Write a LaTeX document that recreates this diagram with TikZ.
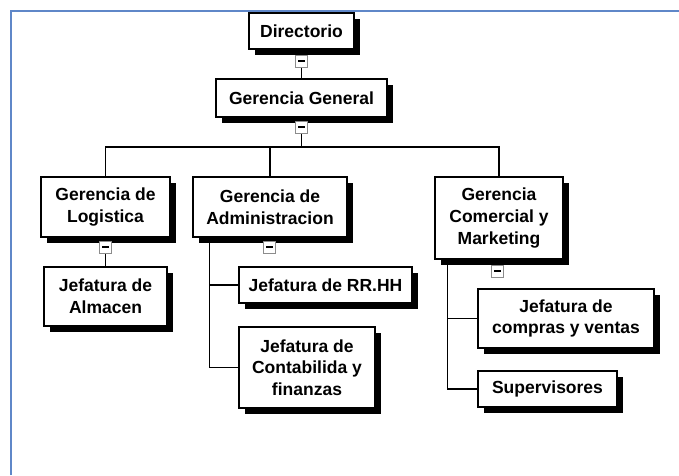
\documentclass[tikz,border=0pt]{standalone}
\usepackage{fontspec}
\setmainfont{Liberation Sans}
\usetikzlibrary{shadows, backgrounds}
\definecolor{framecol}{RGB}{95,135,200}

\begin{document}
\begin{tikzpicture}[x=1pt, y=-1pt,
    unit/.style={draw, line width=1.2pt, fill=white, inner sep=0pt, align=center,
        font=\fontsize{17.5}{21.7}\selectfont\bfseries,
        drop shadow={shadow xshift=6pt, shadow yshift=-6pt, fill=black, opacity=1}},
    toggle/.style={draw=black!45, fill=white, line width=0.9pt, minimum size=12pt, inner sep=0pt},
    link/.style={draw, line width=1.4pt}]
    \useasboundingbox (0,0) rectangle (679,475);
    \draw [framecol, line width=1.6pt] (11,475) -- (11,11) -- (679,11);
    \coordinate (top) at (301.5,11);
    \coordinate (bus) at (0,147);

    \node (dir) [unit, minimum width=105pt, minimum height=36pt] at (301.5,31) {Directorio};
    \node (gg) [unit, minimum width=171pt, minimum height=38pt] at (301.5,98) {Gerencia General};
    \node (log) [unit, minimum width=129pt, minimum height=60pt] at (105.5,207) {Gerencia de\\Logistica};
    \node (adm) [unit, minimum width=154pt, minimum height=60pt] at (270,207) {Gerencia de\\Administracion};
    \node (com) [unit, minimum width=128pt, minimum height=82pt] at (499,218) {Gerencia\\Comercial y\\Marketing};
    \node (alm) [unit, minimum width=123pt, minimum height=59pt] at (105.5,296.5) {Jefatura de\\Almacen};
    \node (rrhh) [unit, minimum width=173pt, minimum height=36pt] at (325.5,285) {Jefatura de RR.HH};
    \node (cont) [unit, minimum width=136pt, minimum height=81pt] at (307,367.5) {Jefatura de\\Contabilida y\\finanzas};
    \node (cv) [unit, minimum width=176pt, minimum height=59pt] at (566,318.5) {Jefatura de\\compras y ventas};
    \node (sup) [unit, minimum width=139pt, minimum height=36pt] at (547.5,389) {Supervisores};

    \node (t1) [toggle] at (301.5,61) {\rule{7pt}{1.5pt}};
    \node (t2) [toggle] at (301.5,127) {\rule{7pt}{1.5pt}};
    \node (t3) [toggle] at (105.5,247) {\rule{7pt}{1.5pt}};
    \node (t4) [toggle] at (269.5,247) {\rule{7pt}{1.5pt}};
    \node (t5) [toggle] at (497.5,271) {\rule{7pt}{1.5pt}};

    \begin{scope}[on background layer]
        \draw [link] (dir.north) -- (top);
        \draw [link] (dir.south) -- (gg.north);
        \draw [link] (gg.south) -- (gg.south |- bus);
        \draw [link] (log.north) |- (com.north |- bus) -- (com.north);
        \draw [link] (adm.north) -- (adm.north |- bus);
        \draw [link] (log.south) -- (alm.north);
        \draw [link] ([xshift=17pt]adm.south west) |- (rrhh.west);
        \draw [link] ([xshift=17pt]adm.south west) |- (cont.west);
        \draw [link] ([xshift=13pt]com.south west) |- (cv.west);
        \draw [link] ([xshift=13pt]com.south west) |- (sup.west);
    \end{scope}
\end{tikzpicture}
\end{document}
